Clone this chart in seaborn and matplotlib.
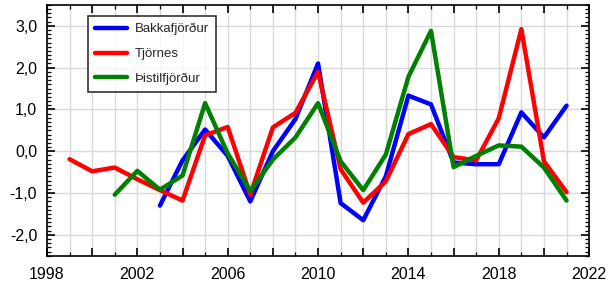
import numpy as np
import pandas as pd
import matplotlib
matplotlib.use("Agg")
import matplotlib.pyplot as plt
import seaborn as sns
from matplotlib.ticker import MultipleLocator, FuncFormatter

sns.set_style("white")
plt.rcParams["font.family"] = ["Liberation Sans", "DejaVu Sans"]

years_tjornes = list(range(1999, 2022))
tjornes = [-0.19, -0.48, -0.39, -0.67, -0.93, -1.18, 0.38, 0.58, -1.04, 0.57,
           0.92, 1.9, -0.43, -1.23, -0.72, 0.41, 0.65, -0.14, -0.22, 0.79,
           2.92, -0.24, -0.98]

years_bakka = list(range(2003, 2022))
bakka = [-1.3, -0.22, 0.52, -0.11, -1.2, 0.0, 0.77, 2.1, -1.24, -1.65,
         -0.6, 1.33, 1.12, -0.27, -0.31, -0.31, 0.93, 0.33, 1.09]

years_thistil = list(range(2001, 2022))
thistil = [-1.04, -0.47, -0.92, -0.58, 1.15, -0.05, -0.95, -0.2, 0.33, 1.15,
           -0.24, -0.93, -0.08, 1.78, 2.88, -0.38, -0.11, 0.14, 0.11, -0.39,
           -1.18]

names = ["Bakkafjörður", "Tjörnes", "Þistilfjörður"]
colors = ["#0000ff", "#ff0000", "#008000"]


def year_label(v, pos):
    # only every fourth year gets a label, counted from 1998
    y = int(round(v))
    return str(y) if (y - 1998) % 4 == 0 else ""


df = pd.concat([
    pd.DataFrame({"year": years_bakka, "value": bakka, "site": names[0]}),
    pd.DataFrame({"year": years_tjornes, "value": tjornes, "site": names[1]}),
    pd.DataFrame({"year": years_thistil, "value": thistil, "site": names[2]}),
])

fig = plt.figure(figsize=(6.14, 2.89), dpi=100)
ax = fig.add_axes([0.0765, 0.115, 0.883, 0.868])

sns.lineplot(data=df, x="year", y="value", hue="site", hue_order=names,
             palette=colors, linewidth=3.2, ax=ax, legend=True)

ax.set_xlim(1998, 2022)
ax.set_ylim(-2.5, 3.5)
ax.xaxis.set_major_locator(MultipleLocator(2))
ax.xaxis.set_minor_locator(MultipleLocator(1))
ax.yaxis.set_major_locator(MultipleLocator(1))
ax.yaxis.set_minor_locator(MultipleLocator(0.1))
ax.xaxis.set_major_formatter(FuncFormatter(year_label))
ax.yaxis.set_major_formatter(FuncFormatter(lambda v, p: f"{v:.1f}".replace(".", ",")))
ax.grid(True, which="major", color="#d9d9d9", linewidth=1)
ax.grid(True, which="minor", axis="x", color="#d9d9d9", linewidth=1)
ax.set_axisbelow(True)
ax.tick_params(which="both", direction="in", top=True, right=True,
               bottom=True, left=True, labelsize=11.5, colors="black")
ax.tick_params(which="major", length=6, width=1.2)
ax.tick_params(which="minor", length=3, width=0.9)
ax.tick_params(axis="x", which="major", pad=8)
ax.tick_params(axis="y", which="major", pad=7)
ax.set_xlabel("")
ax.set_ylabel("")
for s in ax.spines.values():
    s.set_color("black")
    s.set_linewidth(1.2)

leg = ax.legend(loc="upper left", bbox_to_anchor=(0.076, 0.956), frameon=True,
                fancybox=False, edgecolor="black", fontsize=9.5,
                handlelength=2.4, labelspacing=0.95, borderpad=0.55,
                handletextpad=0.6, borderaxespad=0)
leg.get_frame().set_linewidth(1.2)
for line in leg.get_lines():
    line.set_linewidth(3.2)

fig.savefig("out.png", dpi=100)
